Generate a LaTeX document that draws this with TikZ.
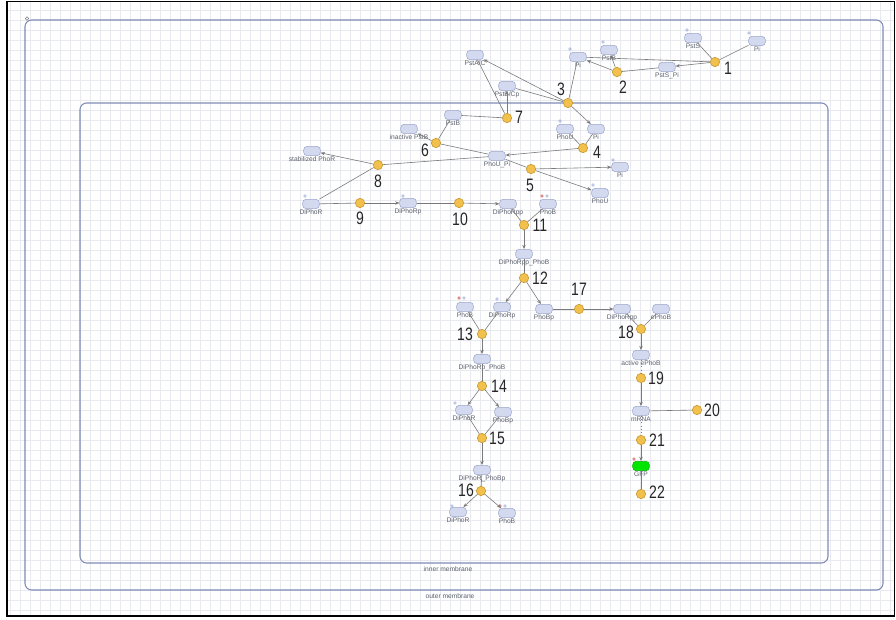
\documentclass[tikz,border=0pt]{standalone}
\usepackage{fontspec}
\setmainfont{Liberation Sans}
\newfontfamily\numfont[FakeStretch=0.78]{Liberation Sans}
\usetikzlibrary{arrows.meta}
\definecolor{spfill}{HTML}{D3D9EE}
\definecolor{spborder}{HTML}{9CA6CC}
\definecolor{rxfill}{HTML}{F2C04C}
\definecolor{rxborder}{HTML}{C8982E}
\definecolor{edgegray}{HTML}{7A7A7A}
\definecolor{lblgray}{HTML}{5A5F6B}
\definecolor{memb}{HTML}{7F8AB6}
\definecolor{gridc}{HTML}{E9EAF0}
\definecolor{markblue}{HTML}{7C8FD0}
\definecolor{markred}{HTML}{D04848}
\newcommand\myspc[5][species]{\node[#1,label={[lbl]below:#5}] (#2) at (#3,#4) {};}
\newcommand\myrx[3]{\node[rxn] (#1) at (#2,#3) {};}
\newcommand\mynum[4]{\node[num] (#1) at (#2,#3) {#4};}
\newcommand\mkb[2]{\draw[markblue,line width=0.35pt] (#1,#2) circle (1.4);}
\newcommand\mkr[2]{\draw[markred,line width=0.35pt,fill=markred!30] (#1,#2) circle (1.4);}
\begin{document}
\begin{tikzpicture}[x=0.75pt,y=-0.75pt,
 species/.style={draw=spborder, fill=spfill, rounded corners=2.6pt, minimum width=12.5pt, minimum height=7pt, inner sep=0pt, line width=0.4pt},
 gfpspecies/.style={species, draw=green!70!black, fill=green!90!black},
 rxn/.style={circle, draw=rxborder, fill=rxfill, minimum size=7pt, inner sep=0pt, line width=0.45pt},
 lbl/.style={font=\fontsize{5}{5.5}\selectfont, text=lblgray, inner sep=0.4pt, label distance=0pt},
 num/.style={font=\numfont\fontsize{13.5}{14}\selectfont, text=black!85, inner sep=0pt},
 mlbl/.style={font=\fontsize{5}{5.5}\selectfont, text=lblgray, inner sep=0pt},
 edge/.style={draw=edgegray, line width=0.45pt},
 arr/.style={edge, -{Stealth[length=3.2pt,width=2.6pt]}},
 dots/.style={edge, dotted}]
\useasboundingbox (0,0) rectangle (896,619);
% grid
\foreach \gx in {10,20,...,890} \draw[gridc, line width=0.4pt] (\gx,2) -- (\gx,615);
\foreach \gy in {10,20,...,610} \draw[gridc, line width=0.4pt] (8,\gy) -- (894,\gy);
\draw[black, line width=0.9pt] (7,1.5) rectangle (894.5,616);
% membranes
\draw[memb, line width=0.8pt, rounded corners=5pt] (25,20) rectangle (883,590);
\draw[gray, line width=0.4pt] (27,18.5) circle (1.8);
\draw[memb, line width=0.8pt, rounded corners=5pt] (80,103) rectangle (828,563);
\node[mlbl] (innerlbl) at (448,569) {inner membrane};
\node[mlbl] (outerlbl) at (450,596) {outer membrane};

% species
\myspc{Pia}{757}{41}{Pi}
\myspc{PstS}{693}{38}{PstS}
\myspc{PstSPi}{667}{67}{PstS\_Pi}
\myspc{Pib}{578}{57}{Pi}
\myspc{PstBa}{609}{50}{PstB}
\myspc{PstAC}{475}{55}{PstA/C}
\myspc{PstBCp}{507}{86}{PstB/Cp}
\myspc{PstBb}{453}{115}{PstB}
\myspc{inact}{409}{129}{inactive PstB}
\myspc{PhoUa}{565}{129}{PhoU}
\myspc{Pic}{596}{129}{Pi}
\myspc{PhoUPi}{497}{156}{PhoU\_Pi}
\myspc{Pid}{620}{167}{Pi}
\myspc{PhoUb}{600}{193}{PhoU}
\myspc{stab}{312}{151}{stabilized PhoR}
\myspc{DiPhoRa}{311}{204}{DiPhoR}
\myspc{DiPhoRpa}{408}{203}{DiPhoRp}
\myspc{DiPhoRppa}{508}{204}{DiPhoRpp}
\myspc{PhoBa}{548}{204}{PhoB}
\myspc{DPPB}{524}{254}{DiPhoRpp\_PhoB}
\myspc{PhoBb}{465}{307}{PhoB}
\myspc{DiPhoRpb}{502}{307}{DiPhoRp}
\myspc{PhoBpa}{544}{309}{PhoBp}
\myspc{DiPhoRppb}{622}{309}{DiPhoRpp}
\myspc{ePhoB}{661}{309}{ePhoB}
\myspc{active}{641}{355}{active ePhoB}
\myspc{DRPB}{482}{359}{DiPhoRp\_PhoB}
\myspc{mRNA}{641}{411}{mRNA}
\myspc{DiPhoRb}{464}{410}{DiPhoR}
\myspc{PhoBpb}{503}{412}{PhoBp}
\myspc[gfpspecies]{GFP}{641}{466}{GFP}
\myspc{DRPBp}{482}{470}{DiPhoR\_PhoBp}
\myspc{DiPhoRc}{458}{512}{DiPhoR}
\myspc{PhoBc}{507}{513}{PhoB}

% markers above species
\mkb{749}{33} \mkb{687}{30} \mkb{570}{49} \mkb{603}{42}
\mkb{560}{121} \mkb{613}{160} \mkb{593}{185}
\mkb{305}{196} \mkb{403}{196}
\mkr{542}{196} \mkb{547}{196}
\mkr{459}{298} \mkb{464}{298} \mkb{497}{299}
\mkb{455}{403} \mkr{634}{459} \mkb{452}{506}
\mkr{500}{506} \mkb{505}{506}

% reactions
\myrx{r1}{715}{62}   \mynum{n1}{728}{68}{1}
\myrx{r2}{617}{72}   \mynum{n2}{623}{87}{2}
\myrx{r3}{568}{103}  \mynum{n3}{561}{89}{3}
\myrx{r4}{583}{148}  \mynum{n4}{597}{152}{4}
\myrx{r5}{531}{169}  \mynum{n5}{530}{185}{5}
\myrx{r6}{436}{143}  \mynum{n6}{425}{150}{6}
\myrx{r7}{507}{118}  \mynum{n7}{519}{117}{7}
\myrx{r8}{378}{165}  \mynum{n8}{378}{181}{8}
\myrx{r9}{360}{203}  \mynum{n9}{360}{218}{9}
\myrx{r10}{459}{203} \mynum{n10}{460}{219}{10}
\myrx{r11}{524}{225} \mynum{n11}{540}{225}{11}
\myrx{r12}{524}{278} \mynum{n12}{540}{278}{12}
\myrx{r17}{579}{309} \mynum{n17}{579}{289}{17}
\myrx{r13}{482}{334} \mynum{n13}{465}{334}{13}
\myrx{r18}{641}{329} \mynum{n18}{626}{332}{18}
\myrx{r19}{641}{378} \mynum{n19}{656}{378}{19}
\myrx{r14}{482}{386} \mynum{n14}{499}{386}{14}
\myrx{r20}{697}{410} \mynum{n20}{712}{410}{20}
\myrx{r15}{482}{438} \mynum{n15}{497}{438}{15}
\myrx{r21}{641}{440} \mynum{n21}{657}{440}{21}
\myrx{r16}{481}{491} \mynum{n16}{466}{490}{16}
\myrx{r22}{641}{494} \mynum{n22}{657}{492}{22}

% connectors
\draw[edge] (PstS) -- (r1);
\draw[edge] (Pia) -- (r1);
\draw[arr] (r1) -- (PstSPi);
\draw[edge] (r1) -- (Pib);
\draw[edge] (PstSPi) -- (r2);
\draw[arr] (r2) -- (PstBa);
\draw[arr] (r2) -- (Pib);
\draw[edge] (Pib) -- (r3);
\draw[arr] (r3) -- (PstAC);
\draw[edge] (r3) -- (PstBCp);
\draw[arr] (r3) -- (Pic);
\draw[edge] (PstBb) -- (r7);
\draw[arr] (r7) -- (PstBCp);
\draw[edge] (r7) -- (PstAC);
\draw[edge] (PhoUa) -- (r4);
\draw[edge] (Pic) -- (r4);
\draw[arr] (r4) -- (PhoUPi);
\draw[edge] (PhoUPi) -- (r5);
\draw[arr] (r5) -- (Pid);
\draw[arr] (r5) -- (PhoUb);
\draw[edge] (PstBb) -- (r6);
\draw[arr] (r6) -- (inact);
\draw[edge] (r6) -- (PhoUPi);
\draw[edge] (PhoUPi) -- (r8);
\draw[edge] (DiPhoRa) -- (r8);
\draw[arr] (r8) -- (stab);
\draw[edge] (DiPhoRa) -- (r9);
\draw[arr] (r9) -- (DiPhoRpa);
\draw[edge] (DiPhoRpa) -- (r10);
\draw[arr] (r10) -- (DiPhoRppa);
\draw[edge] (DiPhoRppa) -- (r11);
\draw[edge] (PhoBa) -- (r11);
\draw[arr] (r11) -- (DPPB);
\draw[edge] (DPPB) -- (r12);
\draw[arr] (r12) -- (DiPhoRpb);
\draw[arr] (r12) -- (PhoBpa);
\draw[edge] (PhoBpa) -- (r17);
\draw[arr] (r17) -- (DiPhoRppb);
\draw[edge] (DiPhoRppb) -- (r18);
\draw[edge] (ePhoB) -- (r18);
\draw[arr] (r18) -- (active);
\draw[dots] (active) -- (r19);
\draw[arr] (r19) -- (mRNA);
\draw[edge] (mRNA) -- (r20);
\draw[dots] (mRNA) -- (r21);
\draw[arr] (r21) -- (GFP);
\draw[edge] (GFP) -- (r22);
\draw[edge] (PhoBb) -- (r13);
\draw[edge] (DiPhoRpb) -- (r13);
\draw[arr] (r13) -- (DRPB);
\draw[edge] (DRPB) -- (r14);
\draw[arr] (r14) -- (DiPhoRb);
\draw[arr] (r14) -- (PhoBpb);
\draw[edge] (DiPhoRb) -- (r15);
\draw[edge] (PhoBpb) -- (r15);
\draw[arr] (r15) -- (DRPBp);
\draw[edge] (DRPBp) -- (r16);
\draw[arr] (r16) -- (DiPhoRc);
\draw[arr] (r16) -- (PhoBc);
\end{tikzpicture}
\end{document}
